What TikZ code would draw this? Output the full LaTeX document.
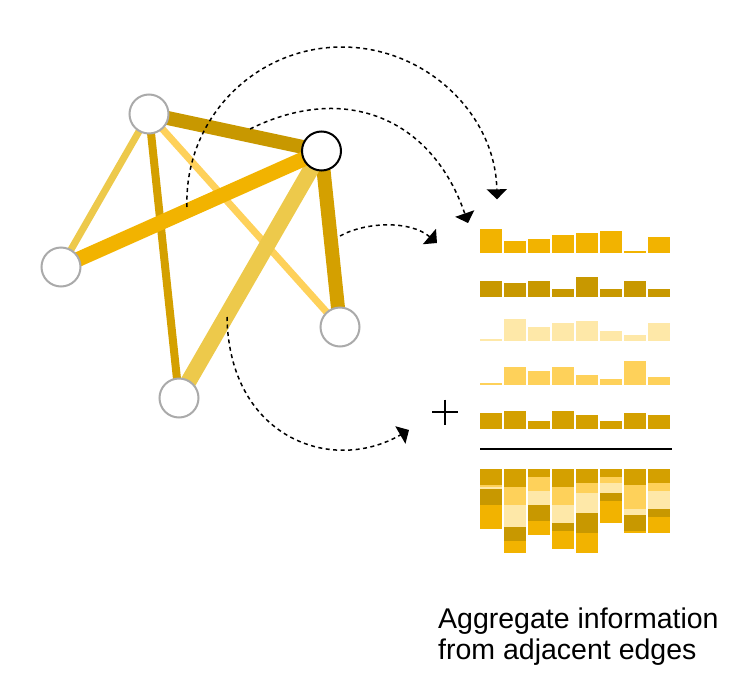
\documentclass[tikz,border=0pt]{standalone}
\usepackage{fontspec}
\setmainfont{Liberation Sans}
\usetikzlibrary{arrows.meta}
\definecolor{cBright}{HTML}{F2B300}
\definecolor{cDark}{HTML}{C89800}
\definecolor{cPale}{HTML}{FEE8A8}
\definecolor{cLight}{HTML}{FED15A}
\definecolor{cGold}{HTML}{D4A000}
\definecolor{cMustard}{HTML}{EDC94B}
\definecolor{nodegray}{HTML}{AAAAAA}
\pgfdeclarelayer{bg}
\pgfsetlayers{bg,main}
\begin{document}
\begin{tikzpicture}[x=1pt,y=-1pt,
  vertex/.style={circle, draw=nodegray, line width=2pt, fill=white, minimum size=39pt, inner sep=0pt},
  hubvertex/.style={vertex, draw=black},
  msg/.style={dash pattern=on 4pt off 3.5pt, line width=1.5pt, -{Triangle[width=20pt,length=10pt]}},
  sepline/.style={line width=2pt, black},
  label/.style={anchor=base west, align=left, inner sep=0pt, font=\fontsize{28.5}{31}\selectfont}
]
\useasboundingbox (0,0) rectangle (744,696);

% graph nodes
\node[vertex] (A) at (149,114) {};
\node[hubvertex] (B) at (321.5,151) {};
\node[vertex] (C) at (61,267) {};
\node[vertex] (D) at (340,327) {};
\node[vertex] (E) at (179,398) {};

% edges
\begin{pgfonlayer}{bg}
  \draw[cLight, line width=7pt] (A.center) -- (D.center);
  \draw[cGold, line width=8pt] (A.center) -- (E.center);
  \draw[cMustard, line width=7pt] (A.center) -- (C.center);
  \draw[cDark, line width=14pt] (A.center) -- (B.center);
  \draw[cGold, line width=14pt] (B.center) -- (D.center);
  \draw[cMustard, line width=16pt] (B.center) -- (E.center);
  \draw[cBright, line width=15pt] (C.center) -- (B.center);
\end{pgfonlayer}

% message arrows
\coordinate (m1) at (187,207);
\coordinate (m2) at (250,129);
\coordinate (m3) at (340,236);
\coordinate (m4) at (227,317);
\coordinate (t1) at (497,199.3);
\coordinate (t2) at (468,223);
\coordinate (t3) at (437,243);
\coordinate (t4) at (409,430);
\draw[msg] (m1) .. controls (184,119.4) and (254.3,47) .. (342,47)
               .. controls (426.5,47) and (495.6,114.8) .. (t1);
\draw[msg] (m2) .. controls (345,82) and (432,118) .. (t2);
\draw[msg] (m3) .. controls (365,222) and (410,220) .. (t3);
\draw[msg] (m4) .. controls (229,437) and (331,475) .. (t4);

% bar rows
\foreach \h [count=\i from 0] in {24,12,14,18,20,22,2,16}
  \fill[cBright] (480+24*\i,253) rectangle ++(22,-\h);
\foreach \h [count=\i from 0] in {16,14,16,8,20,8,16,8}
  \fill[cDark] (480+24*\i,297) rectangle ++(22,-\h);
\foreach \h [count=\i from 0] in {2,22,14,18,20,10,6,18}
  \fill[cPale] (480+24*\i,341) rectangle ++(22,-\h);
\foreach \h [count=\i from 0] in {2,18,14,18,10,6,24,8}
  \fill[cLight] (480+24*\i,385) rectangle ++(22,-\h);
\foreach \h [count=\i from 0] in {16,18,8,18,14,8,16,14}
  \fill[cGold] (480+24*\i,429) rectangle ++(22,-\h);

% plus sign and separator
\draw[sepline] (432,412) -- (458,412);
\draw[sepline] (445,399.5) -- (445,424.5);
\draw[sepline] (480,449) -- (672,449);

% stacked sum
\foreach \a/\b/\c/\d/\e [count=\i from 0] in
  {16/2/2/16/24, 18/18/22/14/12, 8/14/14/16/14, 18/18/18/8/18,
   14/10/20/20/20, 8/6/10/8/22, 16/24/6/16/2, 14/8/18/8/16}{
  \pgfmathsetmacro{\xx}{480+24*\i}
  \pgfmathsetmacro{\ya}{469+\a}
  \pgfmathsetmacro{\yb}{\ya+\b}
  \pgfmathsetmacro{\yc}{\yb+\c}
  \pgfmathsetmacro{\yd}{\yc+\d}
  \pgfmathsetmacro{\ye}{\yd+\e}
  \fill[cGold] (\xx,469) rectangle (\xx+22,\ya);
  \fill[cLight] (\xx,\ya) rectangle (\xx+22,\yb);
  \fill[cPale] (\xx,\yb) rectangle (\xx+22,\yc);
  \fill[cDark] (\xx,\yc) rectangle (\xx+22,\yd);
  \fill[cBright] (\xx,\yd) rectangle (\xx+22,\ye);
}

% caption
\node[label] (cap) at (438,659) {Aggregate information\\from adjacent edges};
\end{tikzpicture}
\end{document}
